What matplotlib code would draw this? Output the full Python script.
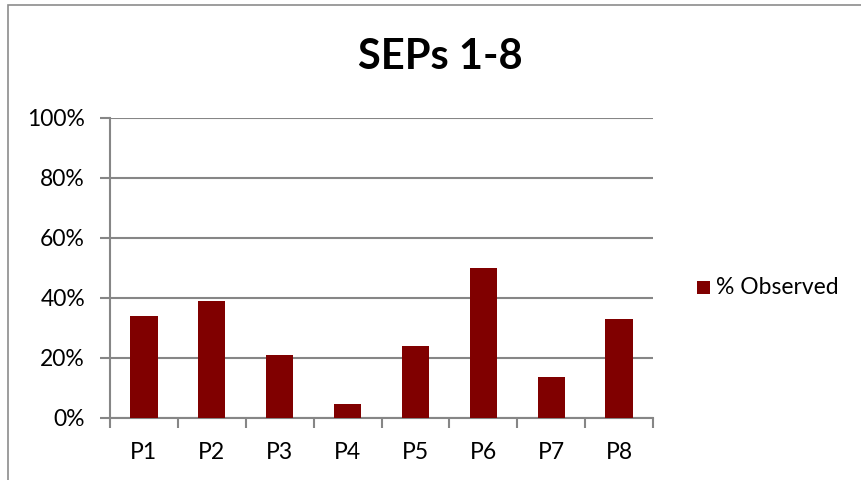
import matplotlib
matplotlib.use("Agg")
import matplotlib.pyplot as plt
from matplotlib.patches import Rectangle
from matplotlib.ticker import FixedLocator, PercentFormatter

categories = ["P1", "P2", "P3", "P4", "P5", "P6", "P7", "P8"]
observed = [0.34, 0.39, 0.21, 0.046, 0.24, 0.50, 0.137, 0.33]
series_name = "% Observed"
title = "SEPs 1-8"
yticks = [0, 0.2, 0.4, 0.6, 0.8, 1.0]

plt.rcParams['font.family'] = ['Lato', 'DejaVu Sans']

W, H = 861, 480
fig = plt.figure(figsize=(W / 100, H / 100), dpi=100)
fig.patch.set_facecolor("white")

# outer chart border (cropped on right/bottom)
fig.patches.append(Rectangle((8 / W, -0.1), 1.2, (1 - 5 / H) + 0.1, transform=fig.transFigure,
                             fill=False, edgecolor="#8c8c8c", linewidth=1.2))

left, right = 110 / W, 653 / W
bottom, top = 1 - 418 / H, 1 - 118 / H
ax = fig.add_axes([left, bottom, right - left, top - bottom])

x = list(range(len(categories)))
ax.bar(x, observed, width=0.4, color="#800000", zorder=3)

ax.set_xlim(-0.5, len(categories) - 0.5)
ax.set_ylim(0, 1.0)
ax.yaxis.set_major_locator(FixedLocator(yticks))
ax.yaxis.set_major_formatter(PercentFormatter(1.0, decimals=0))
ax.set_xticks(x)
ax.set_xticklabels(categories)
ax.xaxis.set_minor_locator(FixedLocator([i - 0.5 for i in range(len(categories) + 1)]))
ax.tick_params(axis='x', which='major', length=0, pad=17, labelsize=16.5, colors="black")
ax.tick_params(axis='x', which='minor', length=7, width=1.5, color="#868686", direction='out')
ax.tick_params(axis='y', which='major', length=7, width=1.5, color="#868686", pad=11,
               labelsize=16.5, labelcolor="black")

ax.grid(axis='y', color="#868686", linewidth=1.5, zorder=0)
for s in ["top", "right"]:
    ax.spines[s].set_visible(False)
for s in ["left", "bottom"]:
    ax.spines[s].set_color("#868686")
    ax.spines[s].set_linewidth(1.5)

fig.text(440 / W, 1 - 57 / H, title, ha="center", va="center", fontsize=30, fontweight="bold")

# legend
fig.patches.append(Rectangle((697 / W, 1 - 294 / H), 13 / W, 13 / H, transform=fig.transFigure,
                             facecolor="#800000", edgecolor="none"))
fig.text(716 / W, 1 - 287 / H, series_name, ha="left", va="center", fontsize=16.5)

fig.savefig("out.png", dpi=100)
